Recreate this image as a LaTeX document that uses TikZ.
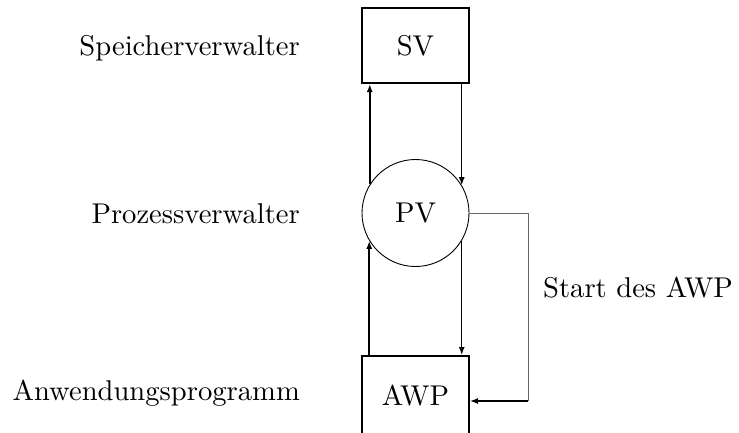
\documentclass[tikz,border=0pt]{standalone}
\usetikzlibrary{arrows.meta}
\newcommand{\bigtxt}[1]{\scalebox{2.86}{\fontsize{10}{12}\selectfont #1}}
\begin{document}
\begin{tikzpicture}[x=1pt,y=-1pt,
  boxnode/.style={draw,line width=2pt,minimum width=107pt,minimum height=75pt,inner sep=0pt},
  circnode/.style={draw,circle,line width=0.9pt,minimum size=107pt,inner sep=0pt},
  lbl/.style={inner sep=0pt},
  thickarr/.style={line width=2pt,-{Latex[length=8pt,width=6pt]}},
  thinarr/.style={line width=1.4pt,-{Latex[length=8pt,width=6pt]}},
  startline/.style={line width=1pt,draw=black!60}
]
\useasboundingbox (0,0) rectangle (739,432);
\node[boxnode] (SV) at (415.5,45.5) {\bigtxt{SV}};
\node[circnode] (PV) at (415.5,213) {\bigtxt{PV}};
\node[boxnode,minimum height=80pt] (AWP) at (415.5,396) {\bigtxt{AWP}};
\node[lbl,anchor=base east] (l1) at (300,55) {\bigtxt{Speicherverwalter}};
\node[lbl,anchor=base east] (l2) at (300,223) {\bigtxt{Prozessverwalter}};
\node[lbl,anchor=base east] (l3) at (300,400) {\bigtxt{Anwendungsprogramm}};
\node[lbl,anchor=base west] (l4) at (543,297) {\bigtxt{Start des AWP}};
% left upward arrows
\draw[thickarr] (PV.148.3) -- (SV.south -| PV.148.3);
\draw[thickarr] (AWP.north -| PV.211.7) -- (PV.211.7);
% right downward arrows
\draw[thinarr] (SV.south -| PV.31.7) -- (PV.31.7);
\draw[thinarr] (PV.-31.7) -- (AWP.north -| PV.-31.7);
% start line
\coordinate (c1) at (528,213);
\coordinate (c2) at (528,401);
\draw[startline] (PV.east) -- (c1) -- (c2);
\draw[line width=1.4pt,-{Latex[length=8pt,width=6pt]}] (c2) -- (AWP.east |- c2);
\end{tikzpicture}
\end{document}
